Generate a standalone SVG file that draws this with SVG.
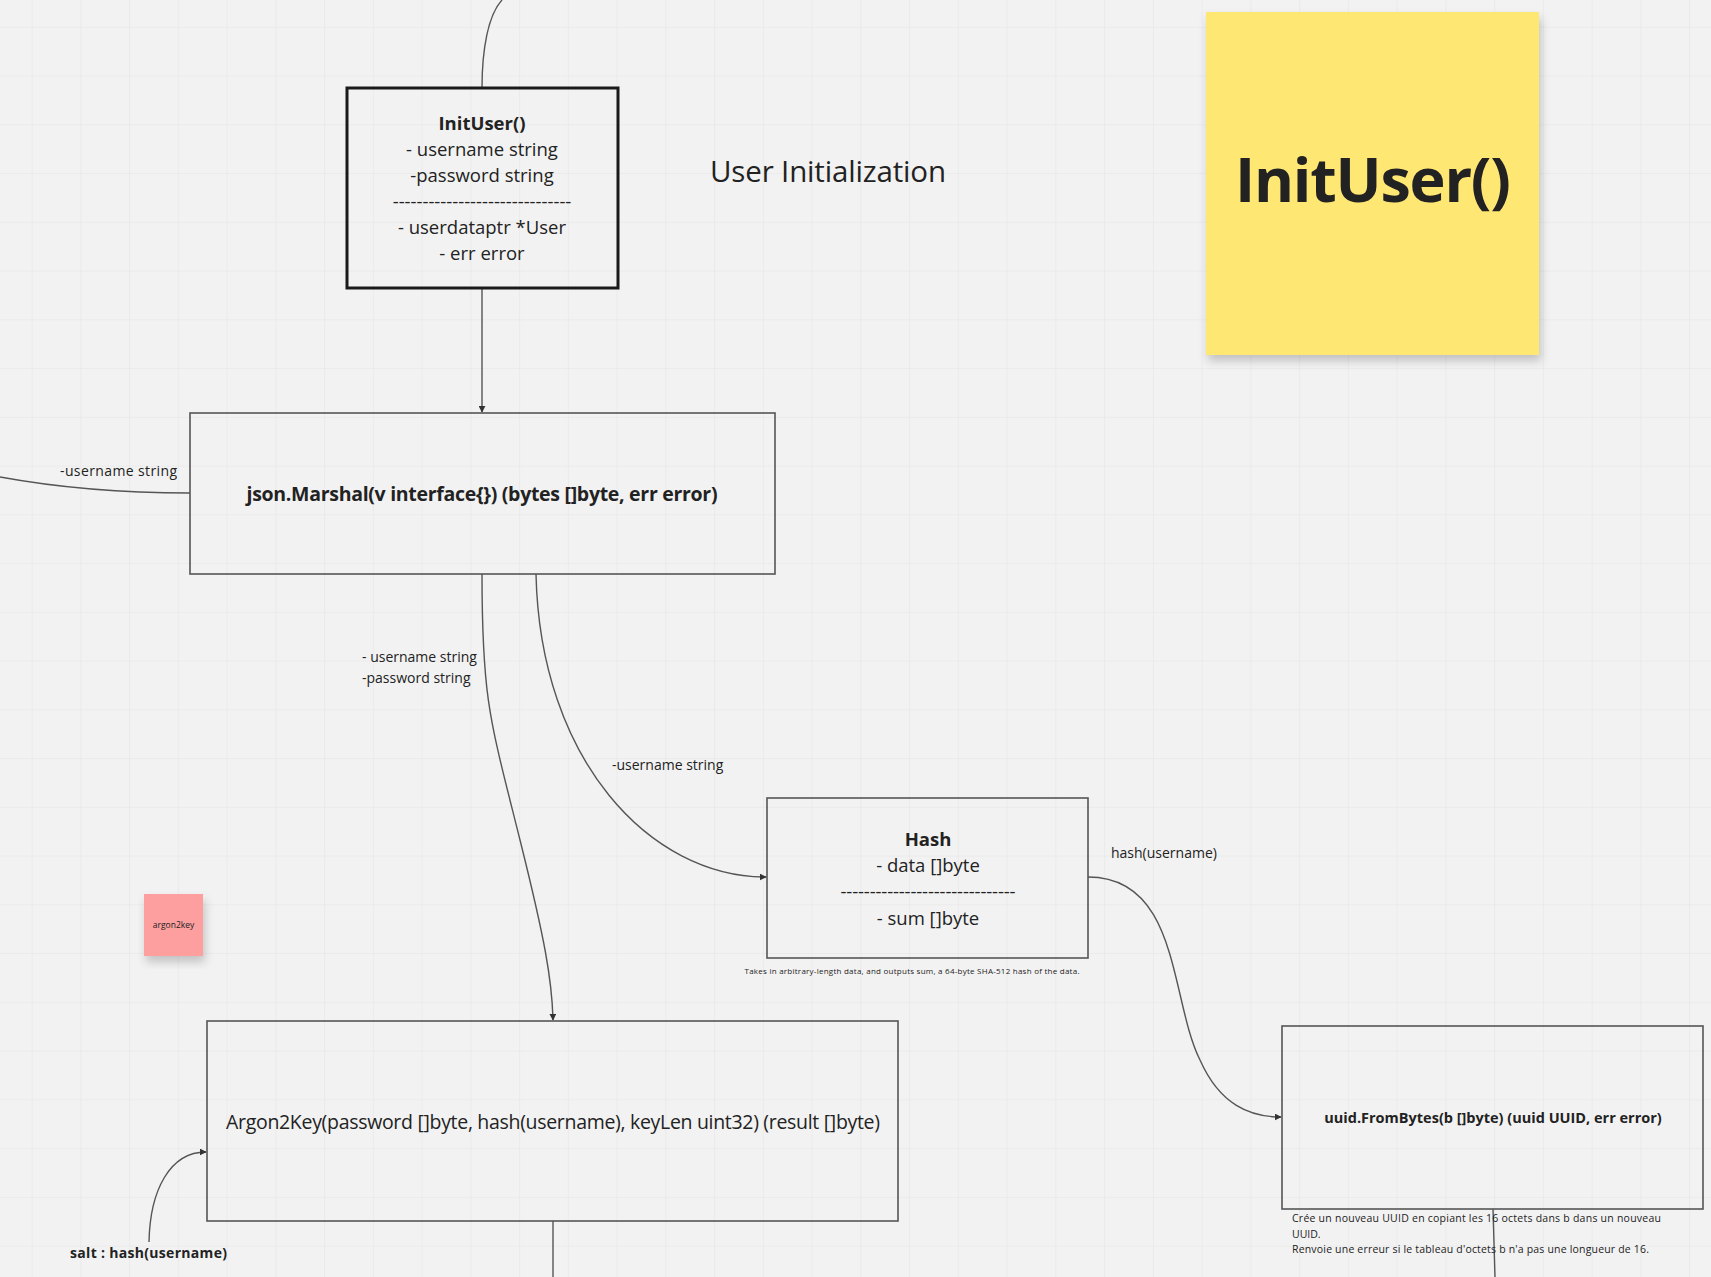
<svg xmlns="http://www.w3.org/2000/svg" width="1711" height="1277" viewBox="0 0 1711 1277">
<defs>
<pattern id="grid" x="31.6" y="26.8" width="48.75" height="48.75" patternUnits="userSpaceOnUse">
<path d="M0 0H48.75M0 0V48.75" stroke="#e4e4e4" stroke-width="1" fill="none"/>
</pattern>
<marker id="ah" viewBox="0 0 10 10" refX="9" refY="5" markerWidth="7" markerHeight="7" orient="auto" markerUnits="userSpaceOnUse">
<path d="M0 0L10 5L0 10z" fill="#333"/>
</marker>
<filter id="sh" x="-10%" y="-10%" width="130%" height="130%"><feDropShadow dx="2" dy="6" stdDeviation="5" flood-opacity="0.2"/></filter>
</defs>
<style>
text{font-family:"Open Sans","Noto Sans","Liberation Sans",sans-serif;fill:#222}
.box{fill:none;stroke:#555;stroke-width:1.6}
.c{fill:none;stroke:#555;stroke-width:1.4}
.lbl{font-size:14px}
.mid{text-anchor:middle}
</style>
<rect width="1711" height="1277" fill="#f2f2f2"/>
<rect width="1711" height="1277" fill="url(#grid)"/>

<g id="connectors">
<path class="c" d="M482 88C482 50 488 15 502 0"/>
<path class="c" d="M482 288V412" marker-end="url(#ah)"/>
<path class="c" d="M0 477C60 488 120 493 190 493"/>
<path class="c" d="M482 574C482 700 490 720 520 840C545 940 552 980 553 1020" marker-end="url(#ah)"/>
<path class="c" d="M536 574C540 760 650 877 766 877" marker-end="url(#ah)"/>
<path class="c" d="M1088 877C1180 877 1170 1000 1200 1060C1220 1105 1250 1117 1281 1117" marker-end="url(#ah)"/>
<path class="c" d="M149 1242C150 1190 170 1152 206 1152" marker-end="url(#ah)"/>
<path class="c" d="M553 1221V1277"/>
<path class="c" d="M1493 1209L1495 1277"/>
<text class="lbl" x="60" y="476" textLength="117">-username string</text>
<text class="lbl" x="362" y="662">- username string</text>
<text class="lbl" x="362" y="683">-password string</text>
<text class="lbl" x="612" y="770">-username string</text>
<text class="lbl" x="1111" y="858">hash(username)</text>
<text class="lbl" x="70" y="1258" font-weight="bold" textLength="157">salt : hash(username)</text>
</g>

<g id="inituser">
<rect x="347" y="88" width="271" height="200" fill="none" stroke="#1a1a1a" stroke-width="3"/>
<g class="mid" font-size="18.5">
<text x="482" y="130" font-weight="bold">InitUser()</text>
<text x="482" y="156">- username string</text>
<text x="482" y="182">-password string</text>
<text x="482" y="208">------------------------------</text>
<text x="482" y="234">- userdataptr *User</text>
<text x="482" y="260">- err error</text>
</g>
</g>

<g id="title"><text x="710" y="182" font-size="29.5" textLength="236">User Initialization</text></g>

<g id="sticky">
<rect x="1206" y="12" width="333" height="343" fill="#fee772" filter="url(#sh)"/>
<text class="mid" x="1373" y="202" font-size="61" font-weight="bold" fill="#1a1a1a" textLength="276">InitUser()</text>
</g>

<g id="marshal">
<rect class="box" x="190" y="413" width="585" height="161"/>
<text class="mid" x="482" y="501" font-size="19.5" font-weight="bold" textLength="471">json.Marshal(v interface{}) (bytes []byte, err error)</text>
</g>

<g id="hash">
<rect class="box" x="767" y="798" width="321" height="160"/>
<g class="mid" font-size="18.5">
<text x="928" y="846" font-weight="bold">Hash</text>
<text x="928" y="872">- data []byte</text>
<text x="928" y="898" textLength="175">------------------------------</text>
<text x="928" y="925">- sum []byte</text>
</g>
<text class="mid" x="912" y="974" font-size="8" textLength="335">Takes in arbitrary-length data, and outputs sum, a 64-byte SHA-512 hash of the data.</text>
</g>

<g id="argon">
<rect class="box" x="207" y="1021" width="691" height="200"/>
<text class="mid" x="553" y="1129" font-size="19.5" textLength="654">Argon2Key(password []byte, hash(username), keyLen uint32) (result []byte)</text>
</g>

<g id="argon2key">
<rect x="144" y="894" width="59" height="62" fill="#fd9f9f" filter="url(#sh)"/>
<text class="mid" x="173.5" y="928" font-size="8.5">argon2key</text>
</g>

<g id="uuid">
<rect class="box" x="1282" y="1026" width="421" height="183"/>
<text class="mid" x="1493" y="1123" font-size="14.5" font-weight="bold">uuid.FromBytes(b []byte) (uuid UUID, err error)</text>
<g font-size="10.5">
<text x="1292" y="1222" textLength="369">Crée un nouveau UUID en copiant les 16 octets dans b dans un nouveau</text>
<text x="1292" y="1238">UUID.</text>
<text x="1292" y="1253" textLength="357">Renvoie une erreur si le tableau d'octets b n'a pas une longueur de 16.</text>
</g>
</g>
</svg>
